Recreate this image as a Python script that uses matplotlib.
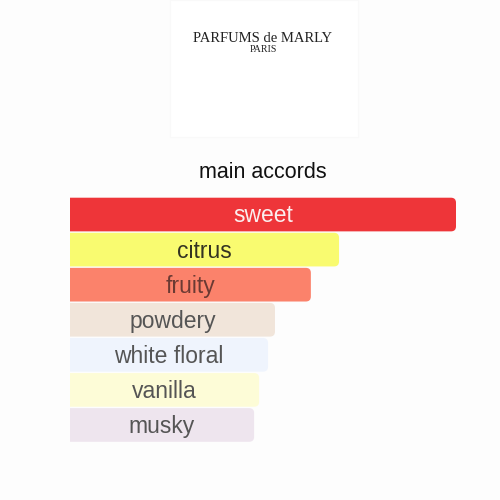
import matplotlib
matplotlib.use('Agg')
import matplotlib.pyplot as plt
from matplotlib.patches import FancyBboxPatch, Rectangle

# --- DATA ---
accords = ["sweet", "citrus", "fruity", "powdery", "white floral", "vanilla", "musky"]
strength = [100, 69.7, 62.4, 53.1, 51.3, 49.0, 47.7]  # % of the strongest accord
bar_colors = ["#ee3539", "#f9fb70", "#fb826b", "#f1e5da", "#eff4fd", "#fdfcd7", "#eee5ee"]
text_colors = ["#fbeeee", "#333322", "#6b3a33", "#555555", "#555555", "#555555", "#555555"]

plt.rcParams['font.family'] = ['Liberation Sans', 'DejaVu Sans']

fig = plt.figure(figsize=(5, 5), dpi=100)
fig.patch.set_facecolor("#fdfdfd")

# logo block
fig.patches.append(Rectangle((170 / 500, 1 - 137 / 500), 188 / 500, 137 / 500,
                             transform=fig.transFigure, facecolor="white",
                             edgecolor="#f9f9f9", linewidth=0.8))
fig.text(263 / 500, 1 - 38.5 / 500, "PARFUMS de MARLY", ha="center", va="center",
         fontsize=10.5, family="Liberation Serif", color="#222222")
fig.text(263 / 500, 1 - 50 / 500, "PARIS", ha="center", va="center",
         fontsize=7.2, family="Liberation Serif", color="#222222")

fig.text(263 / 500, 1 - 172 / 500, "main accords", ha="center", va="center",
         fontsize=15.5, color="#111111")

# bars area: x 0..100 -> 70..456 px
ax = fig.add_axes([70 / 500, 1 - 442.5 / 500, 386 / 500, 245.5 / 500])
ax.set_facecolor("none")
ax.set_xlim(0, 100)
ax.set_ylim(len(accords) - 0.5, -0.5)
ax.axis("off")

bars = ax.barh(range(len(accords)), strength, height=0.96, color=bar_colors)

px_x = 100 / 386
px_y = 1 / 35.0
for bar, col, lab, tc in zip(bars, bar_colors, accords, text_colors):
    x0, y0 = bar.get_x(), bar.get_y()
    w, h = bar.get_width(), bar.get_height()
    bar.set_visible(False)
    r = 5 * px_x
    patch = FancyBboxPatch((x0 - 10, y0), w + 10, h,
                           boxstyle="round,pad=0,rounding_size=%f" % r,
                           mutation_aspect=px_y / px_x,
                           facecolor=col, edgecolor="none", clip_on=True)
    ax.add_patch(patch)
    ax.text(x0 + w / 2, y0 + h / 2 + 0.04, lab, ha="center", va="center",
            fontsize=16.5, color=tc)

fig.savefig("out.png", dpi=100, facecolor=fig.get_facecolor())
